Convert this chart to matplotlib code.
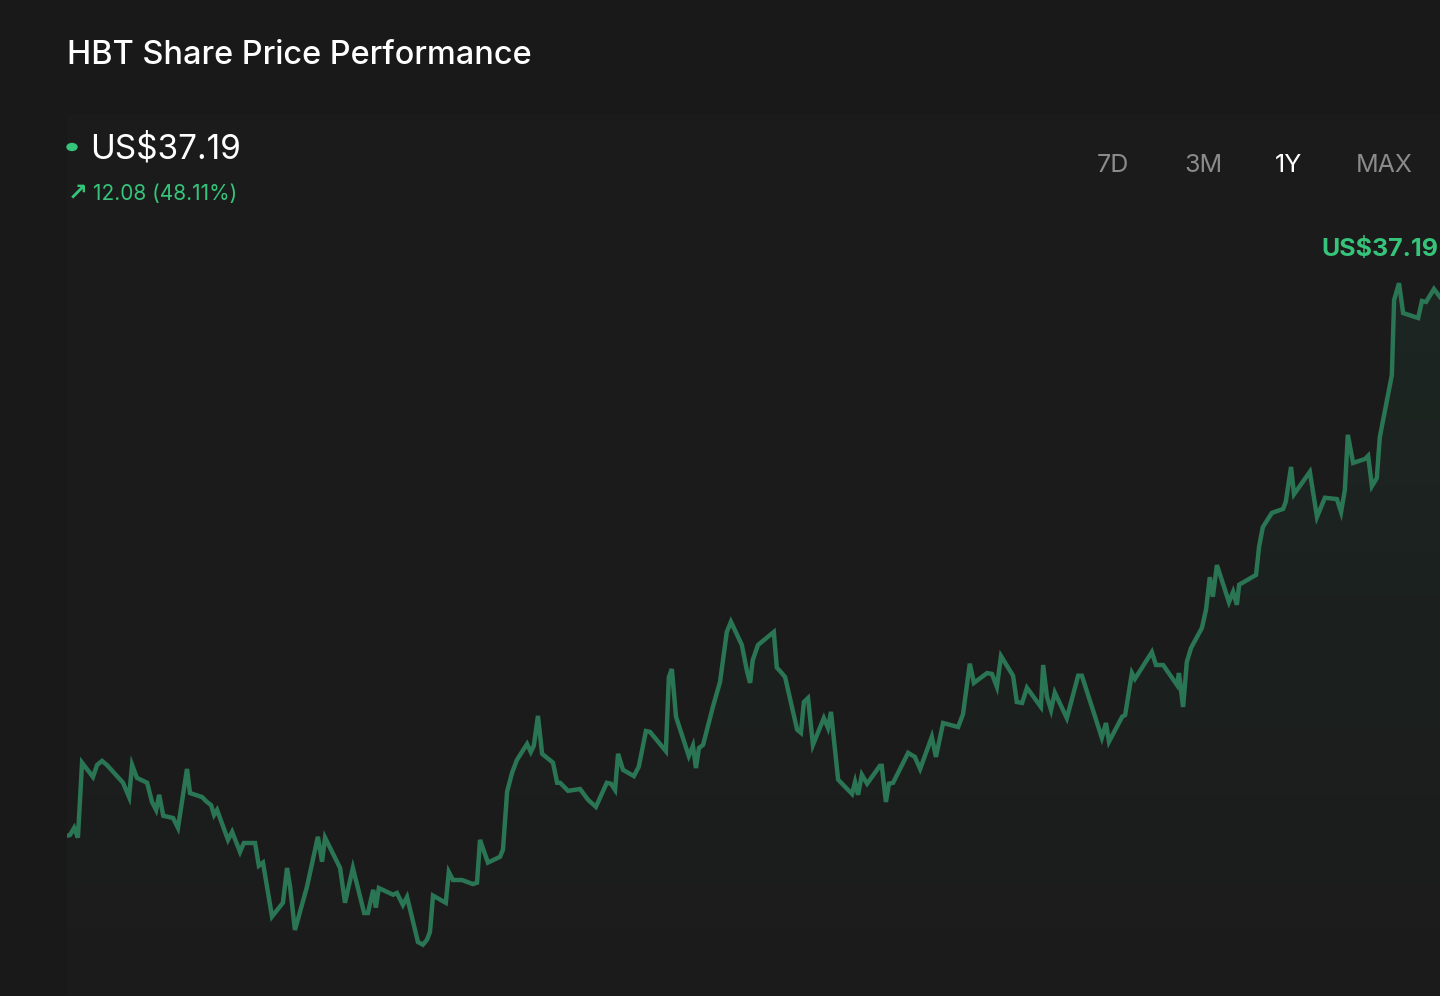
import numpy as np
import matplotlib
matplotlib.use("Agg")
from matplotlib import pyplot as plt

# days since start of the 1Y window, and closing price (US$)
days = [0, 0.8, 1.9, 2.9, 4.0, 6.9, 8.0, 9.3, 10.6, 14.9, 16.5, 17.3, 18.6, 21.3, 22.6, 23.7,
        24.5, 25.6, 28.2, 29.5, 31.9, 32.7, 35.9, 37.2, 38.3, 39.1, 39.9, 42.8, 43.9, 46.0,
        47.0, 50.0, 51.0, 52.1, 54.5, 57.4, 58.5, 59.3, 60.6, 63.8, 66.7, 67.8, 68.6, 72.6,
        73.9, 76.0, 79.0, 80.0, 81.4, 82.1, 82.9, 86.7, 87.7, 89.3, 90.4, 93.3, 94.6, 95.7,
        96.5, 97.3, 100.7, 101.5, 102.6, 105.0, 107.9, 109.0, 109.8, 111.9, 115.1, 115.9,
        117.0, 118.3, 119.6, 122.3, 123.3, 124.1, 125.2, 126.3, 129.2, 130.3, 131.1, 133.2,
        136.4, 138.5, 140.6, 143.5, 144.6, 145.7, 146.5, 147.8, 150.7, 152.0, 153.9, 155.0,
        159.2, 160.0, 160.8, 161.9, 165.3, 166.4, 167.2, 168.0, 169.1, 171.7, 173.6, 175.4,
        176.5, 179.4, 180.8, 181.6, 182.3, 183.7, 187.9, 188.7, 189.5, 190.9, 194.1, 195.1,
        195.9, 197.0, 198.3, 201.2, 202.3, 203.1, 205.0, 208.7, 209.5, 210.3, 211.3, 212.7,
        216.1, 216.6, 217.7, 218.5, 219.6, 223.6, 225.4, 226.8, 229.9, 231.0, 232.9, 236.9,
        238.2, 240.0, 241.1, 244.6, 245.9, 247.2, 248.3, 251.5, 252.5, 253.9, 255.2, 258.9,
        259.5, 260.5, 261.6, 262.6, 265.8, 268.8, 269.8, 275.1, 276.2, 277.0, 280.5, 281.3,
        283.1, 283.9, 288.4, 289.5, 291.4, 295.1, 295.6, 296.7, 297.7, 298.8, 301.7, 302.8,
        303.8, 304.6, 305.7, 308.9, 310.0, 311.0, 311.6, 316.1, 316.9, 317.9, 320.3, 323.3,
        324.0, 325.4, 326.2, 330.4, 332.3, 334.4, 337.6, 338.7, 339.7, 340.5, 341.9, 345.1,
        345.9, 346.9, 348.2, 349.0, 352.2, 352.8, 354.1, 355.2, 359.2, 360.2, 361.3, 363.4,
        365.0]
prices = [25.11, 25.13, 25.29, 25.07, 26.75, 26.43, 26.70, 26.79, 26.70, 26.30, 25.98, 26.70,
          26.41, 26.30, 25.87, 25.69, 26.03, 25.56, 25.51, 25.29, 26.61, 26.07, 25.98, 25.87,
          25.80, 25.58, 25.69, 25.02, 25.20, 24.75, 24.95, 24.95, 24.44, 24.51, 23.30, 23.61,
          24.39, 23.97, 23.00, 23.97, 25.09, 24.53, 25.07, 24.39, 23.61, 24.39, 23.38, 23.38,
          23.90, 23.50, 23.94, 23.79, 23.83, 23.56, 23.74, 22.73, 22.67, 22.78, 22.96, 23.77,
          23.61, 24.30, 24.12, 24.12, 24.03, 24.06, 25.02, 24.51, 24.64, 24.80, 26.10, 26.52,
          26.81, 27.17, 26.99, 27.13, 27.80, 26.95, 26.75, 26.30, 26.30, 26.12, 26.16, 25.92,
          25.76, 26.30, 26.28, 26.14, 26.95, 26.59, 26.45, 26.66, 27.46, 27.44, 27.01, 28.67,
          28.85, 27.78, 26.90, 27.13, 26.63, 27.08, 27.15, 28.00, 28.56, 29.68, 29.91, 29.39,
          28.79, 28.54, 29.05, 29.39, 29.68, 28.88, 28.81, 28.67, 27.49, 27.42, 28.11, 28.20,
          27.15, 27.75, 27.53, 27.89, 26.37, 26.05, 26.32, 26.03, 26.48, 26.28, 26.68, 26.68,
          25.87, 26.28, 26.30, 26.97, 26.88, 26.61, 27.33, 26.88, 27.64, 27.55, 27.84, 28.97,
          28.54, 28.76, 28.74, 28.45, 29.14, 28.70, 28.11, 28.09, 28.43, 28.00, 28.94, 28.23,
          27.93, 28.32, 27.75, 28.70, 28.70, 27.31, 27.64, 27.22, 27.78, 27.82, 28.76, 28.63,
          29.23, 28.94, 28.94, 28.49, 28.76, 28.00, 29.01, 29.32, 29.77, 30.18, 30.91, 30.47,
          31.18, 30.35, 30.58, 30.29, 30.74, 30.96, 31.59, 32.03, 32.35, 32.44, 32.60, 33.38,
          32.77, 33.27, 32.26, 32.69, 32.66, 32.37, 32.86, 34.10, 33.47, 33.56, 33.63, 32.95,
          33.13, 34.05, 35.44, 37.12, 37.50, 36.83, 36.72, 37.10, 37.08, 37.37, 37.19]

ranges = ["7D", "3M", "1Y", "MAX"]
selected = "1Y"
last_price = 37.19
change = 12.08
change_pct = 48.11

BG = "#191919"
PANEL = "#1b1b1b"
LINE = "#2a7553"
GREEN = "#35c47a"
FONT = ["Inter", "DejaVu Sans"]

fig = plt.figure(figsize=(14.4, 9.96), dpi=100, facecolor=BG)

ax = fig.add_axes([67 / 1440, 0, 1 - 67 / 1440, 1 - 115 / 996])
ax.set_facecolor(PANEL)
x = np.array(days)
y = np.array(prices)
ax.set_xlim(0, 365)
ax.set_ylim(21.52, 41.27)

# faint green gradient under the line
fill = ax.fill_between(x, y, 21.52, color="none", lw=0)
grad = np.linspace(0.0, 1.0, 256).reshape(-1, 1)
cmap = matplotlib.colors.LinearSegmentedColormap.from_list(
    "g", [(0.16, 0.46, 0.33, 0.0), (0.16, 0.46, 0.33, 0.13)])
img = ax.imshow(grad, aspect="auto", cmap=cmap, origin="lower",
                extent=[0, 365, 21.52, 38.0], zorder=1)
img.set_clip_path(fill.get_paths()[0], transform=ax.transData)
ax.plot(x, y, color=LINE, lw=3.2, solid_joinstyle="miter", zorder=3)
for s in ax.spines.values():
    s.set_visible(False)
ax.set_xticks([])
ax.set_yticks([])

# header
fig.text(67 / 1440, 1 - 55 / 996, "HBT Share Price Performance", color="white",
         fontsize=23.4, family=FONT, fontweight="medium", va="center", ha="left")
fig.patches.append(matplotlib.patches.Circle((72 / 1440, 1 - 147 / 996), 5 / 1440,
                                             transform=fig.transFigure, color=GREEN))
fig.text(90 / 1440, 1 - 149 / 996, f"US${last_price:.2f}", color="white",
         fontsize=24, family=FONT, va="center", ha="left")
fig.text(68 / 1440, 1 - 193 / 996, "↗", color=GREEN,
         fontsize=17, family=["DejaVu Sans"], fontweight="bold", va="center", ha="left")
fig.text(93 / 1440, 1 - 194 / 996, f"{change:.2f} ({change_pct:.2f}%)", color=GREEN,
         fontsize=15, family=FONT, va="center", ha="left")

# range selector
xs = [1113, 1203, 1289, 1384]
for lab, xc in zip(ranges, xs):
    fig.text(xc / 1440, 1 - 166 / 996, lab, color="white" if lab == selected else "#8b8b8b",
             fontsize=18, family=FONT, va="center", ha="center")

# last price label
fig.text(1438 / 1440, 1 - 250 / 996, f"US${last_price:.2f}", color=GREEN,
         fontsize=18, family=FONT, fontweight="bold", va="center", ha="right")

fig.savefig("out.png", dpi=100, facecolor=BG)
